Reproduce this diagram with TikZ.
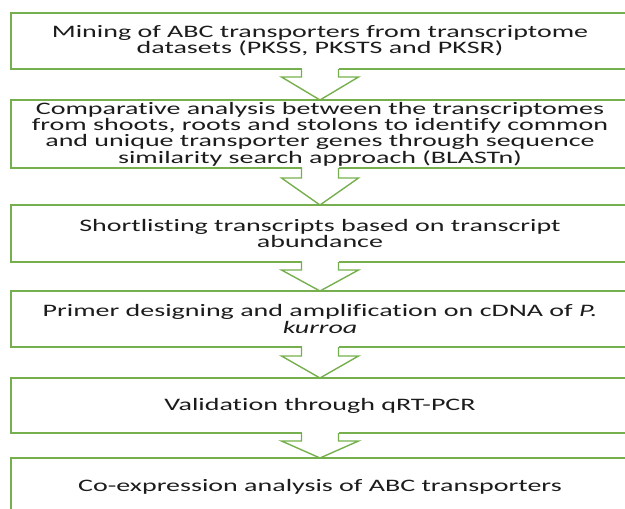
\documentclass[tikz,border=0pt]{standalone}
\usepackage{fontspec}
\setmainfont{Carlito}[FakeStretch=1.6, Ligatures=NoCommon]
\usetikzlibrary{calc}
\definecolor{boxgreen}{RGB}{118,176,78}
\definecolor{txt}{RGB}{28,28,28}
% arrow from box #1 down to box #2, shaft length #3
\newcommand\fdarrow[3]{%
  \fill[white] ($(#1.south)+(-18.5,1.2)$) rectangle ($(#1.south)+(18.5,-#3)$);
  \draw[flowarrow] ($(#1.south)+(-18.5,0)$) -- ++(0,-#3) -- ++(-20,0) -- (#2.north)
    -- ($(#1.south)+(38.5,-#3)$) -- ($(#1.south)+(18.5,-#3)$) -- ($(#1.south)+(18.5,0)$);
}
\begin{document}
\begin{tikzpicture}[x=1pt,y=1pt,
  stepbox/.style={draw=boxgreen, line width=1.4pt, fill=white, minimum width=618pt,
    inner sep=0pt, outer sep=0pt, align=center, text=txt,
    font=\fontsize{17.5}{16.3}\selectfont},
  flowarrow/.style={draw=boxgreen, line width=1.4pt, line join=miter}]
\useasboundingbox (0,0) rectangle (625,-509);
\clip (0,0) rectangle (625,-509);
\node[stepbox, minimum height=56pt] (b1) at (320,-41)
  {Mining of ABC transporters from transcriptome\\datasets (PKSS, PKSTS and PKSR)};
\node[stepbox, minimum height=68pt] (b2) at (320,-134)
  {Comparative analysis between the transcriptomes\\from shoots, roots and stolons to identify common\\and unique transporter genes through sequence\\similarity search approach (BLASTn)};
\node[stepbox, minimum height=57pt] (b3) at (320,-233.5)
  {Shortlisting transcripts based on transcript\\abundance};
\node[stepbox, minimum height=56pt] (b4) at (320,-319)
  {Primer designing and amplification on cDNA of \textit{P.}\\\textit{kurroa}};
\node[stepbox, minimum height=55pt] (b5) at (320,-405.5)
  {Validation through qRT-PCR};
\node[stepbox, minimum height=58pt] (b6) at (320,-487)
  {Co-expression analysis of ABC transporters};
\fdarrow{b1}{b2}{8}
\fdarrow{b2}{b3}{10}
\fdarrow{b3}{b4}{8}
\fdarrow{b4}{b5}{9}
\fdarrow{b5}{b6}{8}
\end{tikzpicture}
\end{document}
